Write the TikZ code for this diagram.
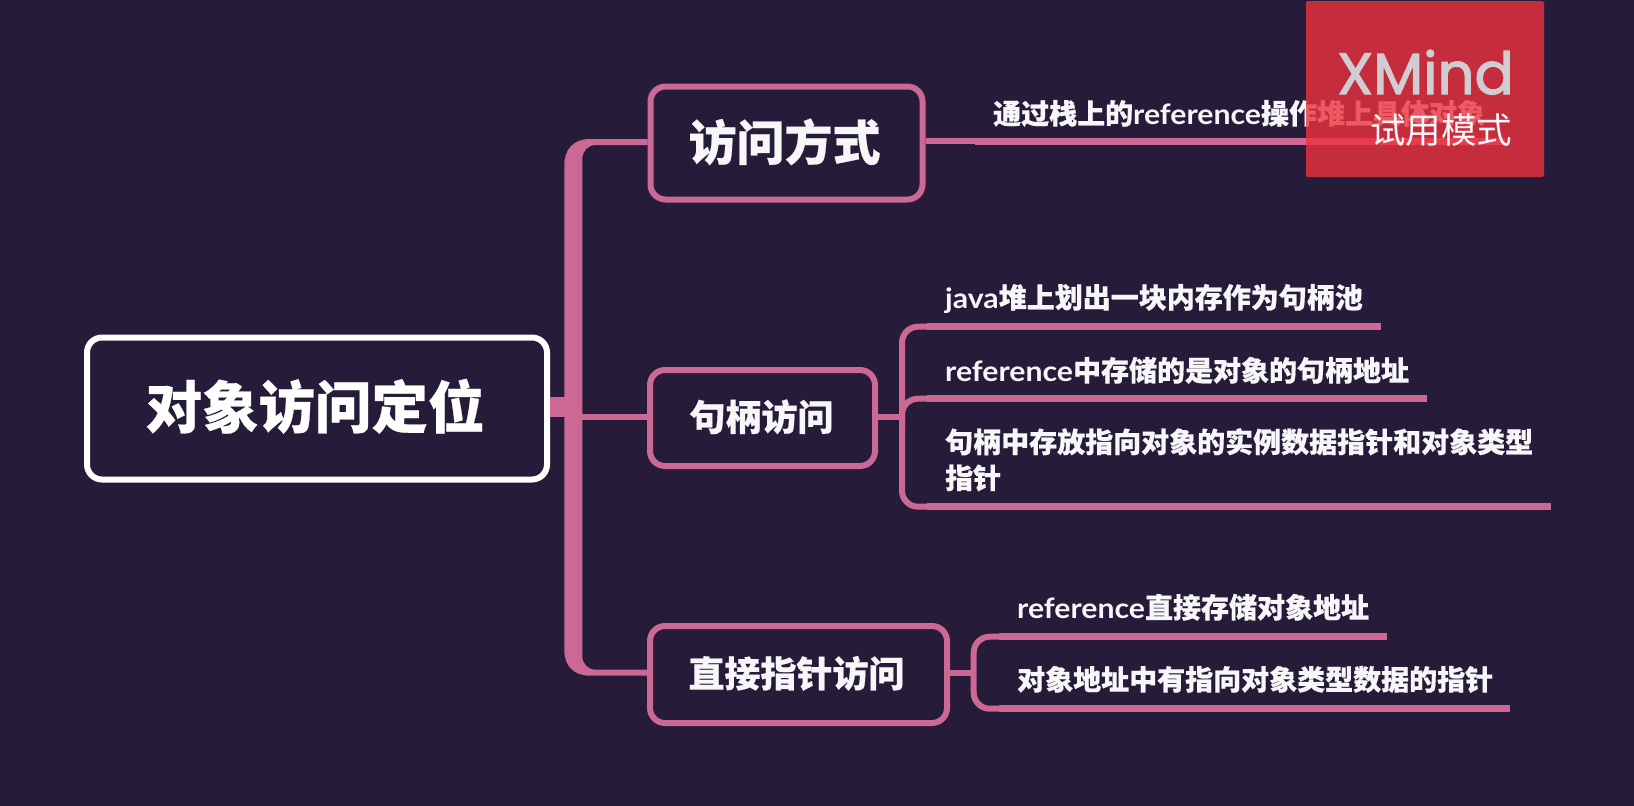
\documentclass[tikz,border=0pt]{standalone}
\usepackage{fontspec}
\usetikzlibrary{calc}
\setmainfont{Noto Sans CJK SC}[BoldFeatures={FakeBold=0.5}]
\newfontfamily\lat{Lato}
\newfontfamily\latw{Lato}[FakeStretch=1.08]
\newfontfamily\wm{Poppins}[FakeBold=2]
\definecolor{bgc}{HTML}{261C3A}
\definecolor{pinkc}{HTML}{CB6893}
\definecolor{redc}{HTML}{ED323D}
\definecolor{txt}{HTML}{F7F6F8}
\definecolor{wmg}{HTML}{D0CCD2}
\tikzset{
  topicbox/.style={draw=pinkc,line width=6pt,fill=bgc,rounded corners=15pt,inner sep=0pt,text=txt,font=\bfseries\fontsize{36}{40}\selectfont,align=center},
  rootbox/.style={topicbox,draw=white,text=white,font=\bfseries\fontsize{56.5}{60}\selectfont},
  leaftext/.style={anchor=base west,inner sep=0pt,text=txt,font=\bfseries\fontsize{28}{36}\selectfont,align=left},
  thin branch/.style={draw=pinkc,line width=6pt},
  leaf line/.style={draw=pinkc,line width=6.6pt},
  tree/.style={draw=pinkc,line width=6pt,rounded corners=16pt},
}
\begin{document}
\begin{tikzpicture}[x=1pt,y=-1pt]
\fill[bgc] (0,0) rectangle (1634,806);
\useasboundingbox (0,0) rectangle (1634,806);
% coordinates
\coordinate (t1) at (600,142);
\coordinate (t2) at (573,416.7);
\coordinate (t3) at (600,672.7);
\coordinate (tr2) at (902,416.7);
\coordinate (tr3) at (973.7,672.7);
\coordinate (rj) at (573,407);
% leaf anchors
\coordinate (l0a) at (975,141.3);\coordinate (l0b) at (1505,141.3);
\coordinate (l1a) at (927,326.7);\coordinate (l1b) at (1381,326.7);
\coordinate (l2a) at (927,398.7);\coordinate (l2b) at (1427,398.7);
\coordinate (l3a) at (927,506.7);\coordinate (l3b) at (1551,506.7);
\coordinate (l4a) at (999,636.7);\coordinate (l4b) at (1387,636.7);
\coordinate (l5a) at (999,708.7);\coordinate (l5b) at (1510,708.7);
% nodes
\node[rootbox,minimum width=460pt,minimum height=142pt] (root) at (317,408.5) {\raisebox{10pt}{对象访问定位}\kern4pt};
\node[topicbox,minimum width=272pt,minimum height=113pt,font=\bfseries\fontsize{48}{52}\selectfont] (b1) at (786.5,143) {\raisebox{7pt}{访问方式}\kern4pt};
\node[topicbox,minimum width=225pt,minimum height=96pt] (b2) at (762.5,418) {\raisebox{6pt}{句柄访问}\kern2pt};
\node[topicbox,minimum width=297pt,minimum height=97pt] (b3) at (798.5,674.5) {\raisebox{6pt}{直接指针访问}\kern4pt};
% trunk
\fill[pinkc] ($(b1.west|-t1)+(0,-3)$) -- (590,139) .. controls (574,139) and (564.3,149) .. (564.3,165)
  -- (564.3,650) .. controls (564.3,666) and (574,675.7) .. (590,675.7) -- ($(b3.west|-t3)+(0,3)$)
  -- ($(b3.west|-t3)+(0,-3)$) -- (596,669.7) .. controls (588,669.7) and (582.3,664) .. (582.3,656)
  -- (582.3,159) .. controls (582.3,151) and (588,145) .. (596,145) -- ($(b1.west|-t1)+(0,3)$) -- cycle;
\draw[draw=pinkc,line width=20pt] (root.east|-rj) -- (rj);
\draw[thin branch] (t2) -- (b2.west|-t2);
% branch 1
\draw[thin branch] (b1.east|-l0a) -- (l0a);
\draw[leaf line] (l0a) -- (l0b);
% branch 2
\draw[thin branch] (b2.east|-tr2) -- (tr2);
\draw[tree] (l1a) -- (902,326.7) -- (902,506.7) -- (l3a);
\draw[tree] (l2a) -- (902,398.7) -- (902,425);
\draw[leaf line] (l1a) -- (l1b);
\draw[leaf line] (l2a) -- (l2b);
\draw[leaf line] (l3a) -- (l3b);
% branch 3
\draw[thin branch] (b3.east|-tr3) -- (tr3);
\draw[tree] (l4a) -- (973.7,636.7) -- (973.7,708.7) -- (l5a);
\draw[leaf line] (l4a) -- (l4b);
\draw[leaf line] (l5a) -- (l5b);
% leaf text
\node[leaftext] (n0) at (993,124) {通过栈上的{\latw reference}操作堆上具体对象};
\node[leaftext] (n1) at (945,308) {{\latw java}堆上划出一块内存作为句柄池};
\node[leaftext] (n2) at (945,381) {{\latw reference}中存储的是对象的句柄地址};
\node[leaftext,text width=600pt] (n3) at (945,452.5) {句柄中存放指向对象的实例数据指针和对象类型\\指针};
\node[leaftext] (n4) at (1017,618) {{\latw reference}直接存储对象地址};
\node[leaftext] (n5) at (1017,690) {对象地址中有指向对象类型数据的指针};
% watermark
\fill[redc,fill opacity=.8,rounded corners=2pt] (1306,1) rectangle (1544,177);
\node[anchor=base west,inner sep=0pt,text=wmg,font=\wm\fontsize{58}{60}\selectfont] (wm1) at (1337,94) {XMind};
\node[anchor=base west,inner sep=0pt,text=txt,font=\fontsize{35.5}{38}\selectfont] (wm2) at (1370,143) {试用模式};
\end{tikzpicture}
\end{document}
